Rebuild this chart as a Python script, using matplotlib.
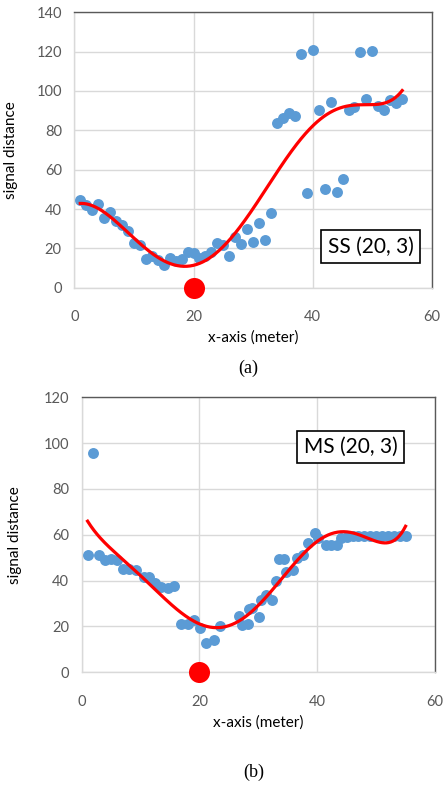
import numpy as np
import matplotlib
matplotlib.use("Agg")
import matplotlib.pyplot as plt

# ---- Panel (a): SS (20, 3) ----
ss_x = [1, 2, 3, 4, 5, 6, 7, 8, 9, 10, 11, 12, 13, 14, 15, 16, 17, 18, 19, 20,
        21, 22, 23, 24, 25, 26, 27, 28, 29, 30, 31, 32, 33, 34, 35, 36, 37, 38,
        39, 40, 41, 42, 43, 44, 45, 46, 47, 48, 49, 50, 51, 52, 53, 54, 55]
ss_y = [44.6, 42, 39.5, 42.5, 35.3, 38.6, 34, 31.9, 29, 22.6, 21.7, 14.4, 16.1,
        14.1, 11.5, 14.9, 13.6, 14.4, 18.3, 17.8, 14.9, 16.1, 18.3, 22.9, 21.7,
        16.1, 25.6, 22, 29.7, 23.4, 33, 24.3, 37.8, 83.6, 86.1, 88.7, 87.3,
        118.8, 48, 120.8, 90.3, 50.3, 94.4, 48.5, 55.4, 90.3, 92, 120, 96.1,
        120.3, 92.4, 90.3, 95.4, 93.7, 95.8]

# ---- Panel (b): MS (20, 3) ----
ms_x = [1, 2, 3, 4, 5, 6, 7, 8, 9.3, 10.5, 11.4, 12.4, 13.5, 14.6, 15.7, 16.9,
        18.1, 19.1, 20.1, 21.1, 22.4, 23.5, 26.7, 27.3, 28.2, 28.4, 29.0, 30.1,
        30.5, 31.3, 32.3, 33.0, 33.5, 34.4, 34.7, 35.8, 36.5, 37.6, 38.4, 39.6,
        40.2, 41.5, 42.4, 43.3, 44.0, 45, 46, 47, 48, 49, 50, 51, 52, 53, 54, 55]
ms_y = [51.2, 95.6, 51.2, 49, 49.3, 49, 45, 45, 44.7, 41.8, 41.8, 39.1, 37.1,
        36.7, 37.7, 21.1, 21.1, 22.8, 19.2, 12.9, 14.2, 20, 24.6, 20.8, 21.2,
        27.5, 27.9, 24.3, 31.4, 33.8, 31.4, 40, 49.3, 49.3, 43.8, 44.7, 49.8,
        51.2, 56.3, 60.7, 58.5, 55.6, 55.6, 55.6, 58.5, 59.2, 59.5, 59.5, 59.5,
        59.5, 59.5, 59.5, 59.5, 59.5, 59.5, 59.5]

source_x = [20]
source_y = [0]

labels = ["SS (20, 3)", "MS (20, 3)"]
captions = ["(a)", "(b)"]
ymax = [140, 120]

BLUE = "#5B9BD5"
GRID = "#D9D9D9"
TXT = "#595959"
FONT = "Lato"

fig = plt.figure(figsize=(4.43, 7.87), dpi=100)

axes_rects = [
    [74.3 / 443, (787 - 287.7) / 787, (432 - 74.3) / 443, 275.4 / 787],
    [81.7 / 443, (787 - 672.3) / 787, (435 - 81.7) / 443, 275.0 / 787],
]
box_pos = [(0.828, 0.149), (0.761, 0.820)]
cap_y = [368, 772]
ylab_ax = [-0.157, -0.169]

for i, (xs, ys) in enumerate([(ss_x, ss_y), (ms_x, ms_y)]):
    ax = fig.add_axes(axes_rects[i])
    ax.set_xlim(0, 60)
    ax.set_ylim(0, ymax[i])
    ax.set_xticks([0, 20, 40, 60])
    ax.set_yticks(np.arange(0, ymax[i] + 1, 20))
    ax.grid(True, color=GRID, linewidth=1.0)
    ax.set_axisbelow(True)
    for s in ["left", "bottom"]:
        ax.spines[s].set_color(GRID)
        ax.spines[s].set_linewidth(1.0)
    for s in ["top", "right"]:
        ax.spines[s].set_color("#595959")
        ax.spines[s].set_linewidth(1.0)
    ax.tick_params(length=0, labelsize=10.5, labelcolor=TXT)
    ax.tick_params(axis="x", pad=16)
    ax.tick_params(axis="y", pad=9)
    for lab in ax.get_xticklabels() + ax.get_yticklabels():
        lab.set_fontfamily(FONT)

    ax.scatter(xs, ys, s=62, color=BLUE, zorder=3, linewidths=0)

    coef = np.polyfit(xs, ys, 6)
    xf = np.linspace(min(xs), max(xs), 300)
    ax.plot(xf, np.polyval(coef, xf), color="#FF0000", linewidth=2.3, zorder=4)

    ax.scatter(source_x, source_y, s=230, color="#FF0000", zorder=6,
               clip_on=False, linewidths=0)

    ax.text(box_pos[i][0], box_pos[i][1], labels[i], transform=ax.transAxes,
            ha="center", va="center", fontsize=15, family=FONT, color="black",
            zorder=7,
            bbox=dict(boxstyle="square,pad=0.3", facecolor="white",
                      edgecolor="black", linewidth=1.2))

    ax.set_xlabel("x-axis (meter)", fontsize=11, family=FONT, color="black",
                  labelpad=5)
    ax.set_ylabel("signal distance", fontsize=11, family=FONT, color="black")
    ax.yaxis.set_label_coords(ylab_ax[i], 0.5)

    fig.text(0.5 * (axes_rects[i][0] + axes_rects[i][0] + axes_rects[i][2]) - 0.01,
             1 - cap_y[i] / 787, captions[i], ha="center", va="center",
             fontsize=13, family="Liberation Serif")

fig.savefig("out.png", dpi=100, facecolor="white")
